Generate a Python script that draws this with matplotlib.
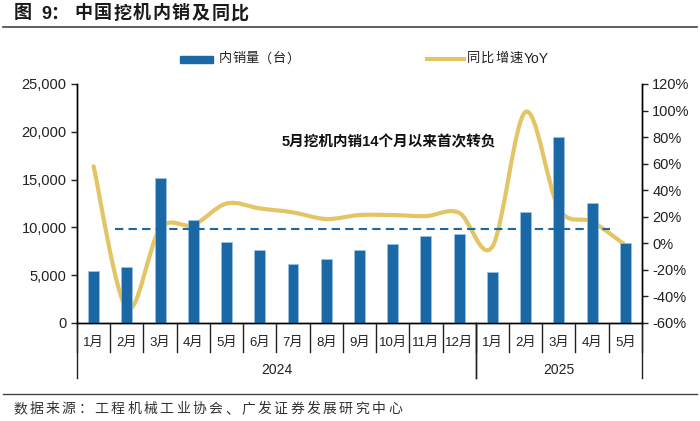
import numpy as np
import matplotlib
matplotlib.use("Agg")
import matplotlib.pyplot as plt
from matplotlib.path import Path
from matplotlib.patches import PathPatch
from matplotlib.transforms import blended_transform_factory

plt.rcParams['font.family'] = ['Liberation Sans', 'Noto Sans CJK SC']

# data
months = ["1月", "2月", "3月", "4月", "5月", "6月", "7月", "8月", "9月", "10月", "11月", "12月",
          "1月", "2月", "3月", "4月", "5月"]
years = ["2024", "2025"]
year_counts = [12, 5]
sales = [5450, 5820, 15200, 10770, 8500, 7650, 6200, 6700, 7600, 8250, 9050, 9310,
         5370, 11640, 19490, 12520, 8340]
yoy = [58.0, -49.0, 11.0, 13.8, 30.0, 26.3, 23.3, 18.3, 21.3, 21.3, 20.5, 23.0,
       -2.5, 99.0, 26.3, 16.3, -1.3]
avg_level = 9780

BLUE = "#1a69a6"
GOLD = "#e3c565"
W, H = 700, 421


def spaced_text(x0, y0, s, step, **kw):
    # draw each character at a fixed pitch (pixels), like the reference
    for i, ch in enumerate(s):
        fig.text((x0 + i * step) / W, 1 - y0 / H, ch, va='center', **kw)


fig = plt.figure(figsize=(7, 4.21), dpi=100)
ax = fig.add_axes([0.11, 0.2328, 0.807, 0.5677])
ax2 = ax.twinx()

x = np.arange(len(sales))
ax.bar(x, sales, width=0.33, color=BLUE, edgecolor='#9cc3e0', linewidth=0.5, zorder=2)
ax.set_xlim(-0.5, len(sales) - 0.5)
ax.set_ylim(0, 25000)
ax.set_yticks(range(0, 25001, 5000))
ax.set_yticklabels([f"{v:,}" for v in range(0, 25001, 5000)], fontsize=10.5)
ax.hlines(avg_level, 0.65, 15.55, colors=BLUE, linestyles=(0, (4, 2.5)), lw=1.5, zorder=3)

# smooth line through yoy points (catmull-rom -> bezier)
pts = np.column_stack([x, yoy]).astype(float)
verts = [pts[0]]
codes = [Path.MOVETO]
for i in range(len(pts) - 1):
    p0 = pts[i - 1] if i > 0 else pts[i]
    p1, p2 = pts[i], pts[i + 1]
    p3 = pts[i + 2] if i + 2 < len(pts) else pts[i + 1]
    verts += [p1 + (p2 - p0) / 6, p2 - (p3 - p1) / 6, p2]
    codes += [Path.CURVE4] * 3
ax2.add_patch(PathPatch(Path(verts, codes), fill=False, edgecolor=GOLD, lw=3,
                        capstyle='round', zorder=4))
ax2.set_ylim(-60, 120)
ax2.set_yticks(range(-60, 121, 20))
ax2.set_yticklabels([f"{v}%" for v in range(-60, 121, 20)], fontsize=10.5)

for a in (ax, ax2):
    a.spines['top'].set_visible(False)
    for s in a.spines.values():
        s.set_linewidth(1.0)
    a.tick_params(length=4, width=1, colors='#222222', labelcolor='#222222')
ax.set_zorder(ax2.get_zorder() + 1)
ax.patch.set_visible(False)

# category axis with separators
ax.set_xticks(x)
ax.set_xticklabels(months, fontsize=9.5)
ax.tick_params(axis='x', length=0, pad=10)
tr = blended_transform_factory(ax.transData, ax.transAxes)
for b in np.arange(-0.5, len(sales), 1.0):
    ax.plot([b, b], [0, -0.12], transform=tr, color='#222222', lw=1, clip_on=False)
start = -0.5
for yr, n in zip(years, year_counts):
    end = start + n
    ax.plot([start, start], [0, -0.23], transform=tr, color='#222222', lw=1, clip_on=False)
    ax.plot([end, end], [0, -0.23], transform=tr, color='#222222', lw=1, clip_on=False)
    ax.text((start + end) / 2, -0.195, yr, transform=tr, ha='center', va='center',
            fontsize=10, color='#222222')
    start = end

ax.text(0.552, 0.755, "5月挖机内销14个月以来首次转负", transform=ax.transAxes,
        ha='center', va='center', fontsize=10.5, fontweight='bold', color='#111111')

# legend drawn in figure coords
fig.patches.append(plt.Rectangle((180 / W, 1 - 63 / H), 33 / W, 7 / H,
                                 transform=fig.transFigure, color=BLUE))
spaced_text(219, 59, "内销量（台）", 13.4, fontsize=9.5, color='#222222')
fig.lines.append(plt.Line2D([427 / W, 464 / W], [1 - 59 / H] * 2,
                            transform=fig.transFigure, color=GOLD, lw=3))
spaced_text(467, 59, "同比增速", 14.2, fontsize=9.5, color='#222222')
fig.text(524 / W, 1 - 59 / H, "YoY", fontsize=10, va='center', color='#222222')

# title and source
fig.text(14 / W, 1 - 14 / H, "图", fontsize=13, fontweight='bold', va='center', color='#1a1a1a')
fig.text(41 / W, 1 - 14 / H, "9：", fontsize=13, fontweight='bold', va='center', color='#1a1a1a')
spaced_text(74, 14, "中国挖机内销及同比", 19.6, fontsize=13, fontweight='bold', color='#1a1a1a')
fig.lines.append(plt.Line2D([3 / W, 697 / W], [1 - 27 / H] * 2,
                            transform=fig.transFigure, color='#444444', lw=1.2))
fig.lines.append(plt.Line2D([3 / W, 697 / W], [1 - 394 / H] * 2,
                            transform=fig.transFigure, color='#444444', lw=1.0))
spaced_text(13, 409, "数据来源：工程机械工业协会、广发证券发展研究中心", 16.3,
            fontsize=10, color='#333333')

fig.savefig("out.png", dpi=100)
